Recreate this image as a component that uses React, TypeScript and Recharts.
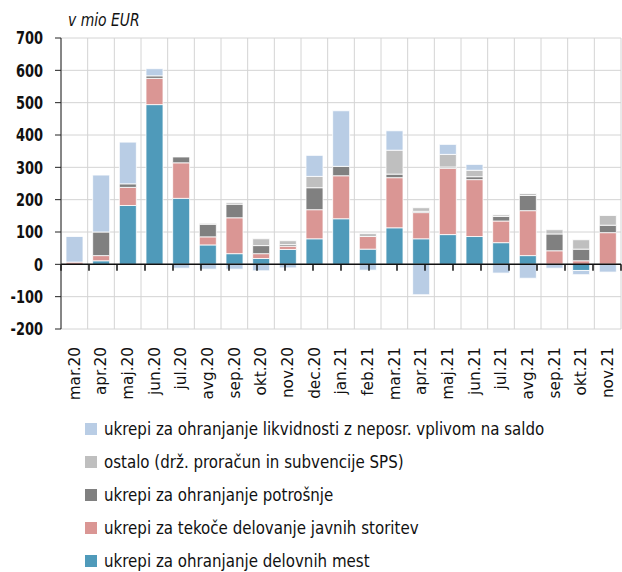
import React from "react";
import { BarChart, Bar, XAxis, YAxis, CartesianGrid, ReferenceLine } from "recharts";

const months = [
  "mar.20", "apr.20", "maj.20", "jun.20", "jul.20", "avg.20", "sep.20", "okt.20", "nov.20", "dec.20",
  "jan.21", "feb.21", "mar.21", "apr.21", "maj.21", "jun.21", "jul.21", "avg.21", "sep.21", "okt.21", "nov.21",
];

const delovnih = [0, 11, 182, 494, 204, 60, 33, 18, 46, 79, 141, 47, 113, 79, 92, 86, 67, 27, 0, -19, 0];
const tekoce = [7, 16, 56, 81, 110, 25, 111, 15, 10, 90, 133, 39, 155, 81, 205, 176, 67, 139, 42, 11, 98];
const potrosnja = [0, 73, 11, 8, 18, 39, 42, 25, 5, 68, 29, 0, 11, 4, 4, 9, 14, 47, 52, 36, 23];
const ostalo = [0, 0, 0, 0, 0, 3, 5, 21, 12, 35, 0, 9, 74, 11, 39, 20, 5, 6, 13, 29, 30];
const likvidnost = [79, 176, 129, 22, -12, -15, -15, -20, -11, 65, 172, -18, 60, -94, 31, 18, -27, -43, -12, -13, -24];

const yTicks = [-200, -100, 0, 100, 200, 300, 400, 500, 600, 700];

const series = [
  { key: "delovnih", name: "ukrepi za ohranjanje delovnih mest", color: "#4f9aba" },
  { key: "tekoce", name: "ukrepi za tekoče delovanje javnih storitev", color: "#da9694" },
  { key: "potrosnja", name: "ukrepi za ohranjanje potrošnje", color: "#808080" },
  { key: "ostalo", name: "ostalo (drž. proračun in subvencije SPS)", color: "#bfbfbf" },
  { key: "likvidnost", name: "ukrepi za ohranjanje likvidnosti z neposr. vplivom na saldo", color: "#b9cde5" },
];

const data = months.map((m, i) => ({
  name: m,
  delovnih: delovnih[i],
  tekoce: tekoce[i],
  potrosnja: potrosnja[i],
  ostalo: ostalo[i],
  likvidnost: likvidnost[i],
}));

const boundaries = months.map((_, i) => i).concat([months.length]);

const font = "'DejaVu Sans Condensed', 'DejaVu Sans', sans-serif";

const MonthTick = (props: any) => {
  const { x, y, payload } = props;
  return (
    <g transform={`translate(${x},${y + 10}) rotate(-90) scale(1,0.92)`}>
      <text
        x={0}
        y={0}
        dy="0.35em"
        textAnchor="end"
        fontFamily={font}
        fontSize={17}
        fontWeight={500}
        fill="#111"
      >
        {payload.value}
      </text>
    </g>
  );
};

const ValueTick = (props: any) => {
  const { x, y, payload } = props;
  return (
    <g transform={`translate(${x},${y}) scale(0.8,1)`}>
      <text x={0} y={0} dy="0.36em" textAnchor="end" fontFamily={font} fontSize={18} fontWeight="bold" fill="#111">
        {payload.value}
      </text>
    </g>
  );
};

export default function App() {
  return (
    <div style={{ position: "absolute", left: 0, top: 0, width: 622, height: 572, background: "#fff", fontFamily: font, fontStretch: "condensed" }}>
      <div
        style={{
          position: "absolute",
          left: 68,
          top: 9,
          fontSize: 18,
          fontStyle: "italic",
          color: "#111",
          transform: "scaleX(0.86)",
          transformOrigin: "left center",
          whiteSpace: "nowrap",
        }}
      >
        v mio EUR
      </div>
      <BarChart
        width={622}
        height={410}
        data={data}
        stackOffset="sign"
        barSize={17}
        margin={{ top: 38, right: 1, left: 0, bottom: 0 }}
      >
        <CartesianGrid
          stroke="#d4d4d4"
          verticalCoordinatesGenerator={({ offset }: any) =>
            boundaries.map((b) => offset.left + (b * offset.width) / months.length)
          }
        />
        <XAxis
          dataKey="name"
          axisLine={false}
          tickLine={false}
          interval={0}
          height={81}
          tick={<MonthTick />}
        />
        <XAxis xAxisId="grid" type="number" domain={[0, months.length]} hide />
        <YAxis
          domain={[-200, 700]}
          ticks={yTicks}
          interval={0}
          width={61}
          axisLine={{ stroke: "#222" }}
          tickLine={{ stroke: "#222" }}
          tickSize={6}
          tickMargin={12}
          tick={<ValueTick />}
        />
        {series.map((s) => (
          <Bar
            key={s.key}
            dataKey={s.key}
            name={s.name}
            stackId="a"
            fill={s.color}
            stroke="#fff"
            strokeWidth={0.8}
            isAnimationActive={false}
          />
        ))}
        <ReferenceLine y={0} stroke="#111" strokeWidth={1.5} />
        {boundaries.map((b) => (
          <ReferenceLine
            key={b}
            xAxisId="grid"
            segment={[{ x: b, y: 0 }, { x: b, y: -20 }]}
            stroke="#111"
            strokeWidth={1.5}
          />
        ))}
      </BarChart>
      <div style={{ position: "absolute", left: 85, top: 412 }}>
        {series
          .slice()
          .reverse()
          .map((s) => (
            <div key={s.key} style={{ display: "flex", alignItems: "center", height: 33, fontSize: 18, color: "#111", whiteSpace: "nowrap" }}>
              <span style={{ display: "inline-block", width: 12, height: 12, background: s.color, marginRight: 7, flexShrink: 0 }} />
              <span style={{ display: "inline-block", transform: "scaleX(0.93)", transformOrigin: "left center" }}>{s.name}</span>
            </div>
          ))}
      </div>
    </div>
  );
}
